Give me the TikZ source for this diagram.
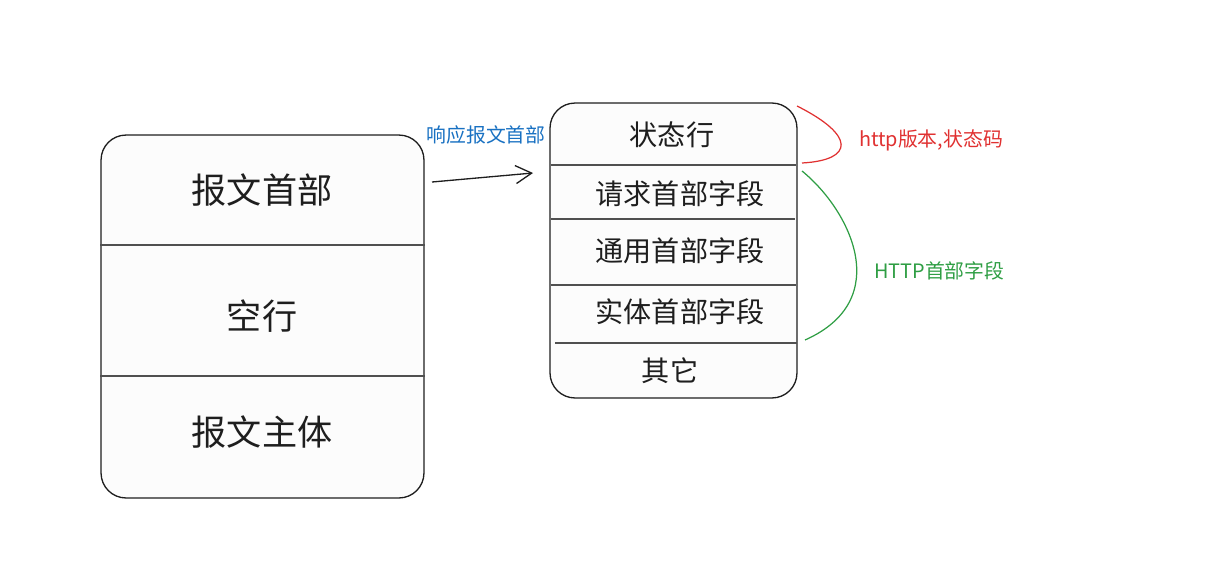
\documentclass[tikz,border=0pt]{standalone}
\usepackage{fontspec}
\setmainfont{Noto Sans CJK SC}
\usetikzlibrary{arrows.meta, positioning, calc}
\definecolor{mydark}{RGB}{30,30,30}
\definecolor{mygray}{RGB}{80,80,80}
\definecolor{myblue}{RGB}{25,113,194}
\definecolor{myred}{RGB}{224,49,49}
\definecolor{mygreen}{RGB}{47,158,68}
\definecolor{myfill}{RGB}{252,252,252}
\tikzset{
  bigbox/.style={rectangle, draw=mydark, fill=myfill, rounded corners=0.5cm,
    line width=0.75pt, inner sep=0pt},
  bigtext/.style={font=\fontsize{20}{24}\selectfont, text=mydark},
  rowtext/.style={font=\fontsize{16}{19}\selectfont, text=mydark},
  divider/.style={line width=0.9pt, color=mygray},
  arrow/.style={-{Straight Barb[length=0.32cm,width=0.36cm]}, line width=0.75pt, color=mydark},
  notetext/.style={font=\fontsize{11.3}{13}\selectfont},
  brace/.style={line width=0.7pt}
}
\begin{document}
\begin{tikzpicture}[x=0.02cm, y=-0.02cm]
  \useasboundingbox (0,0) rectangle (1214,572);

  % Message box
  \node[bigbox, minimum width=6.46cm, minimum height=7.26cm] (msgbox) at (262.5,316.5) {};
  \draw[divider] (msgbox.west |- 0,245) -- (msgbox.east |- 0,245);
  \draw[divider] (msgbox.west |- 0,376) -- (msgbox.east |- 0,376);
  \node[bigtext] (msghdr) at (262,190) {报文首部};
  \node[bigtext] (msgblank) at (262,316) {空行};
  \node[bigtext] (msgbody) at (262,432) {报文主体};

  % Response header box
  \node[bigbox, minimum width=4.94cm, minimum height=5.9cm] (respbox) at (673.5,250.5) {};
  \draw[divider] (551,165) -- (796,165);
  \draw[divider] (551,219) -- (795,219);
  \draw[divider] (551,285) -- (796,285);
  \draw[divider] (555,343) -- (797,343);
  \node[rowtext] (statusrow) at (672,135) {状态行};
  \node[rowtext] (reqrow) at (680,194) {请求首部字段};
  \node[rowtext] (genrow) at (680,251) {通用首部字段};
  \node[rowtext] (entrow) at (680,312) {实体首部字段};
  \node[rowtext] (otherrow) at (670,371) {其它};

  % Arrow and label
  \coordinate (arrfrom) at (432,182);
  \coordinate (arrto) at (533,173);
  \draw[arrow] (arrfrom) -- (arrto);
  \node[notetext, text=myblue] (resplabel) at (486,135) {响应报文首部};

  % Braces and notes
  \draw[brace, myred] (797,106) .. controls (855,135) and (855,160) .. (802,163);
  \node[notetext, text=myred, anchor=west] (statusnote) at (853,140) {http版本,状态码};
  \draw[brace, mygreen] (802,171) .. controls (850,210) and (895,300) .. (805,340);
  \node[notetext, text=mygreen, anchor=west] (fieldnote) at (868,271) {HTTP首部字段};
\end{tikzpicture}
\end{document}
